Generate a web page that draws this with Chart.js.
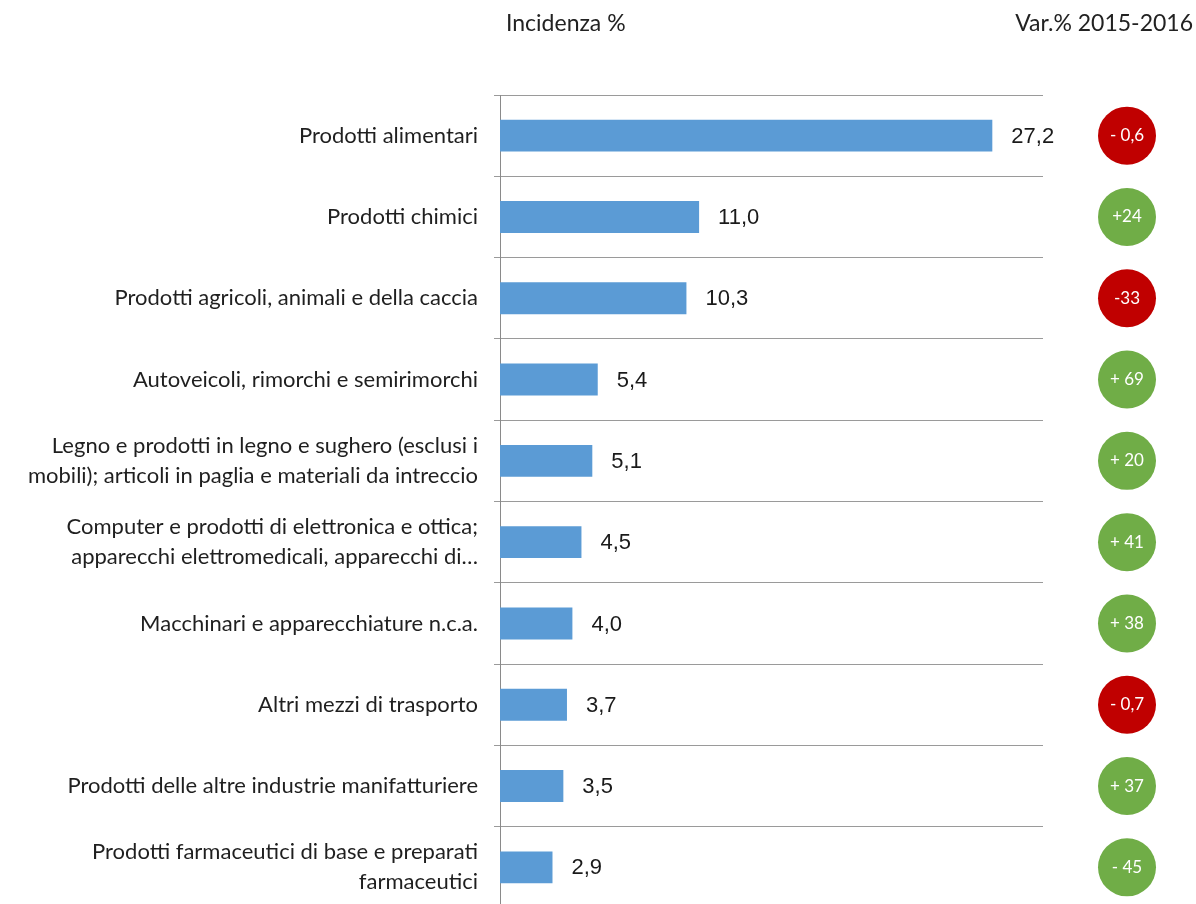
<!DOCTYPE html>
<html>
<head>
<meta charset="utf-8">
<script src="https://cdn.jsdelivr.net/npm/chart.js@4.4.1/dist/chart.umd.min.js"></script>
<style>
  html, body { margin: 0; padding: 0; background: #ffffff; overflow: hidden; }
  #wrap { position: relative; width: 1196px; height: 912px; }
</style>
</head>
<body>
<div id="wrap"><canvas id="c" width="1196" height="912"></canvas></div>
<script>
const categories = [
  'Prodotti alimentari',
  'Prodotti chimici',
  'Prodotti agricoli, animali e della caccia',
  'Autoveicoli, rimorchi e semirimorchi',
  ['Legno e prodotti in legno e sughero (esclusi i', 'mobili); articoli in paglia e materiali da intreccio'],
  ['Computer e prodotti di elettronica e ottica;', 'apparecchi elettromedicali, apparecchi di…'],
  'Macchinari e apparecchiature n.c.a.',
  'Altri mezzi di trasporto',
  'Prodotti delle altre industrie manifatturiere',
  ['Prodotti farmaceutici di base e preparati', 'farmaceutici']
];
const incidenza = [27.2, 11.0, 10.3, 5.4, 5.1, 4.5, 4.0, 3.7, 3.5, 2.9];
const variazione = [-0.6, 24, -33, 69, 20, 41, 38, -0.7, 37, -45];
const variazioneLabels = ['- 0,6', '+24', '-33', '+ 69', '+ 20', '+ 41', '+ 38', '- 0,7', '+ 37', '- 45'];
const headerLeft = 'Incidenza %';
const headerRight = 'Var.% 2015-2016';

const RED = '#C00000', GREEN = '#70AD47';
const circleColors = [RED, GREEN, RED, GREEN, GREEN, GREEN, GREEN, RED, GREEN, GREEN];

const LABEL_FONT = 'Lato, "Open Sans", sans-serif';

const valueLabels = {
  id: 'valueLabels',
  afterDatasetsDraw(chart) {
    const ctx = chart.ctx;
    const meta = chart.getDatasetMeta(0);
    ctx.save();
    ctx.font = '22px "Liberation Sans", Arial, sans-serif';
    ctx.fillStyle = '#1a1a1a';
    ctx.textAlign = 'left';
    ctx.textBaseline = 'middle';
    meta.data.forEach((bar, i) => {
      const txt = incidenza[i].toFixed(1).replace('.', ',');
      ctx.fillText(txt, bar.x + 19, bar.y + 1);
    });
    ctx.restore();
  }
};

const variationCircles = {
  id: 'variationCircles',
  afterDraw(chart, args, opts) {
    const ctx = chart.ctx;
    const ys = chart.scales.y;
    const cx = chart.chartArea.right + opts.offsetX;
    ctx.save();
    variazione.forEach((v, i) => {
      const cy = ys.getPixelForValue(i);
      ctx.beginPath();
      ctx.arc(cx, cy, opts.radius, 0, Math.PI * 2);
      ctx.fillStyle = opts.colors[i];
      ctx.fill();
      ctx.font = '17px ' + LABEL_FONT;
      ctx.fillStyle = '#ffffff';
      ctx.textAlign = 'center';
      ctx.textBaseline = 'middle';
      ctx.fillText(variazioneLabels[i], cx, cy);
    });
    ctx.restore();
  }
};

const headers = {
  id: 'headers',
  afterDraw(chart) {
    const ctx = chart.ctx;
    ctx.save();
    ctx.font = '23px ' + LABEL_FONT;
    ctx.fillStyle = '#222222';
    ctx.textBaseline = 'middle';
    ctx.textAlign = 'left';
    ctx.fillText(headerLeft, chart.chartArea.left + 6, 24);
    ctx.textAlign = 'right';
    ctx.fillText(headerRight, chart.width - 3, 24);
    ctx.restore();
  }
};

new Chart(document.getElementById('c'), {
  type: 'bar',
  data: {
    labels: categories,
    datasets: [{
      data: incidenza,
      backgroundColor: '#5B9BD5',
      borderWidth: 0,
      categoryPercentage: 0.8,
      barPercentage: 0.49
    }]
  },
  options: {
    indexAxis: 'y',
    responsive: false,
    animation: false,
    layout: { padding: { top: 95, right: 153, bottom: 4, left: 0 } },
    plugins: {
      legend: { display: false },
      tooltip: { enabled: false },
      variationCircles: { offsetX: 84, radius: 29, colors: circleColors }
    },
    scales: {
      x: {
        display: false,
        min: 0,
        max: 30
      },
      y: {
        afterFit(scale) {
          scale.width = 500;
          scale.paddingTop = 0;
          scale.paddingBottom = 0;
        },
        grid: {
          display: true,
          offset: true,
          color: '#9a9a9a',
          lineWidth: 1,
          drawTicks: true,
          tickLength: 6
        },
        border: { display: true, color: '#8a8a8a', width: 1 },
        ticks: {
          color: '#1f1f1f',
          padding: 16,
          font: { family: LABEL_FONT, size: 22, lineHeight: 1.36 }
        }
      }
    }
  },
  plugins: [valueLabels, variationCircles, headers]
});
</script>
</body>
</html>
